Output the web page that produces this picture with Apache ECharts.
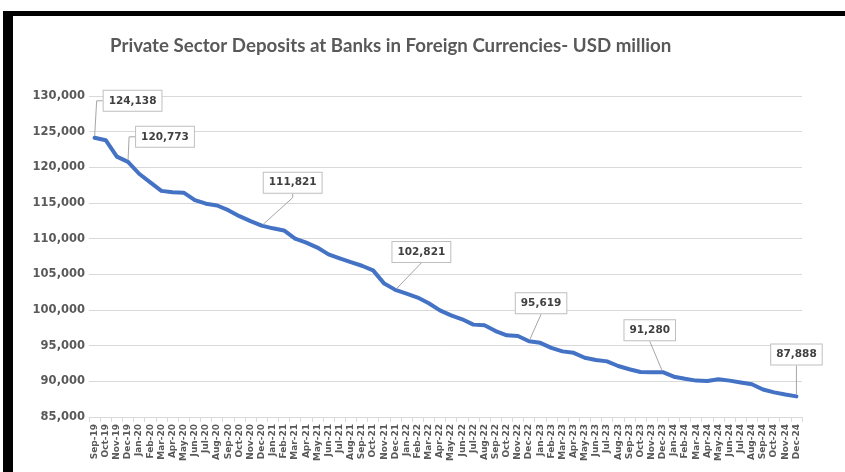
<!DOCTYPE html>
<html>
<head>
<meta charset="utf-8">
<script src="https://cdn.jsdelivr.net/npm/echarts/dist/echarts.min.js"></script>
<style>
  html, body { margin: 0; padding: 0; background: #ffffff; }
  #chart { width: 845px; height: 472px; }
</style>
</head>
<body>
<div id="chart"></div>
<script>
// Month labels (category axis)
const months = [
  'Sep-19', 'Oct-19', 'Nov-19', 'Dec-19',
  'Jan-20', 'Feb-20', 'Mar-20', 'Apr-20', 'May-20', 'Jun-20', 'Jul-20', 'Aug-20', 'Sep-20', 'Oct-20', 'Nov-20', 'Dec-20',
  'Jan-21', 'Feb-21', 'Mar-21', 'Apr-21', 'May-21', 'Jun-21', 'Jul-21', 'Aug-21', 'Sep-21', 'Oct-21', 'Nov-21', 'Dec-21',
  'Jan-22', 'Feb-22', 'Mar-22', 'Apr-22', 'May-22', 'Jun-22', 'Jul-22', 'Aug-22', 'Sep-22', 'Oct-22', 'Nov-22', 'Dec-22',
  'Jan-23', 'Feb-23', 'Mar-23', 'Apr-23', 'May-23', 'Jun-23', 'Jul-23', 'Aug-23', 'Sep-23', 'Oct-23', 'Nov-23', 'Dec-23',
  'Jan-24', 'Feb-24', 'Mar-24', 'Apr-24', 'May-24', 'Jun-24', 'Jul-24', 'Aug-24', 'Sep-24', 'Oct-24', 'Nov-24', 'Dec-24'
];

// Private sector foreign-currency deposits, USD million
const deposits = [
  124138, 123800, 121500, 120773,
  119100, 117900, 116700, 116500, 116450, 115400, 114900, 114650, 114000, 113150, 112450, 111821,
  111450, 111150, 110000, 109450, 108750, 107800, 107250, 106700, 106200, 105550, 103700, 102821,
  102300, 101750, 100950, 99950, 99250, 98700, 97950, 97850, 97050, 96450, 96350, 95619,
  95400, 94700, 94200, 94000, 93300, 93000, 92800, 92150, 91700, 91300, 91280, 91280,
  90650, 90350, 90100, 90050, 90300, 90100, 89850, 89600, 88850, 88450, 88150, 87888
];

// Value axis ticks
const yTicks = [85000, 90000, 95000, 100000, 105000, 110000, 115000, 120000, 125000, 130000];

// Months that carry a value callout
const labeledMonths = ['Sep-19', 'Dec-19', 'Dec-20', 'Dec-21', 'Dec-22', 'Dec-23', 'Dec-24'];

// Callout placement relative to the point: [dx, dy, elbow length of leader line]
const calloutOffsets = {
  'Sep-19': [38, -37, 6],
  'Dec-19': [37, -25, 6],
  'Dec-20': [31, -43, 4],
  'Dec-21': [26, -38, 0],
  'Dec-22': [12, -38, 0],
  'Dec-23': [-13, -42, 0],
  'Dec-24': [0, -42, 0]
};

const fmt = v => Number(v).toLocaleString('en-US');

const seriesData = deposits.map((v, i) => {
  const m = months[i];
  if (labeledMonths.indexOf(m) < 0) return v;
  return {
    value: v,
    label: { show: true },
    labelLine: { show: true, length2: calloutOffsets[m][2] }
  };
});

const chart = echarts.init(document.getElementById('chart'), null, { renderer: 'canvas' });

chart.setOption({
  backgroundColor: '#ffffff',
  animation: false,
  title: {
    text: 'Private Sector Deposits at Banks in Foreign Currencies- USD million',
    left: 110,
    top: 36,
    padding: 0,
    textStyle: {
      fontFamily: 'Lato',
      fontSize: 18.7,
      fontWeight: 'bold',
      color: '#595959'
    }
  },
  graphic: [
    { type: 'rect', shape: { x: 3, y: 11, width: 842, height: 5 }, style: { fill: '#000000' } },
    { type: 'rect', shape: { x: 3, y: 11, width: 10, height: 461 }, style: { fill: '#000000' } }
  ],
  grid: { left: 89, right: 43, top: 96, bottom: 55, containLabel: false },
  xAxis: {
    type: 'category',
    data: months,
    boundaryGap: true,
    axisLine: { show: true, lineStyle: { color: '#d9d9d9', width: 1 } },
    axisTick: { show: true, length: 5, alignWithLabel: false, interval: 0, lineStyle: { color: '#d9d9d9' } },
    axisLabel: {
      interval: 0,
      rotate: 90,
      margin: 7,
      fontFamily: 'DejaVu Sans',
      fontSize: 9,
      fontWeight: 'bold',
      color: '#595959'
    },
    splitLine: { show: false }
  },
  yAxis: {
    type: 'value',
    min: yTicks[0],
    max: yTicks[yTicks.length - 1],
    interval: yTicks[1] - yTicks[0],
    axisLine: { show: false },
    axisTick: { show: false },
    axisLabel: {
      margin: 4,
      fontFamily: 'DejaVu Sans',
      fontSize: 11.5,
      fontWeight: 'bold',
      color: '#595959',
      formatter: fmt
    },
    splitLine: { show: true, lineStyle: { color: '#d9d9d9', width: 1 } }
  },
  series: [{
    type: 'line',
    data: seriesData,
    smooth: false,
    symbol: 'circle',
    symbolSize: 3,
    showSymbol: true,
    showAllSymbol: true,
    itemStyle: { color: '#4472C4' },
    lineStyle: { color: '#4472C4', width: 4, cap: 'round', join: 'round' },
    label: {
      show: false,
      formatter: p => fmt(p.value),
      fontFamily: 'DejaVu Sans',
      fontSize: 10.5,
      fontWeight: 'bold',
      color: '#404040',
      backgroundColor: '#ffffff',
      borderColor: '#bfbfbf',
      borderWidth: 1,
      padding: [5, 5, 4, 5]
    },
    labelLine: {
      show: false,
      lineStyle: { color: '#a6a6a6', width: 1 }
    },
    labelLayout: function (p) {
      const o = calloutOffsets[months[p.dataIndex]];
      if (!o) return {};
      const cx = p.rect.x + p.rect.width / 2;
      const cy = p.rect.y + p.rect.height / 2;
      return { x: cx + o[0], y: cy + o[1], align: 'center', verticalAlign: 'middle' };
    },
    emphasis: { disabled: true }
  }]
});
</script>
</body>
</html>
